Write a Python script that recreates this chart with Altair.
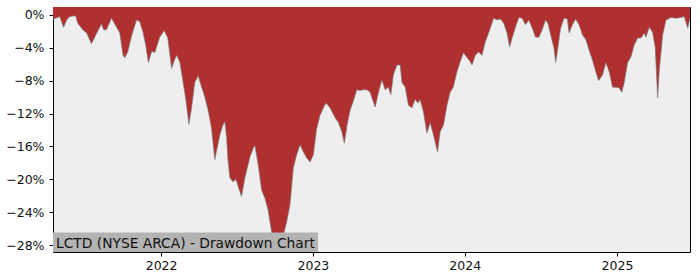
import math
import altair as alt
import pandas as pd

# Decimal-year positions and drawdown values (percent)
years = [
    2021.288, 2021.305, 2021.332, 2021.358, 2021.378, 2021.398, 2021.437, 2021.451, 2021.484, 2021.510,
    2021.541, 2021.563, 2021.576, 2021.607, 2021.622, 2021.640, 2021.673, 2021.701, 2021.728, 2021.749,
    2021.761, 2021.780, 2021.805, 2021.838, 2021.859, 2021.881, 2021.899, 2021.916, 2021.939, 2021.958,
    2021.991, 2022.021, 2022.044, 2022.069, 2022.084, 2022.102, 2022.123, 2022.145, 2022.163, 2022.183,
    2022.201, 2022.222, 2022.244, 2022.262, 2022.288, 2022.310, 2022.332, 2022.354, 2022.367, 2022.387,
    2022.407, 2022.420, 2022.431, 2022.440, 2022.453, 2022.473, 2022.493, 2022.508, 2022.530, 2022.552,
    2022.572, 2022.585, 2022.607, 2022.618, 2022.640, 2022.662, 2022.684, 2022.704, 2022.728, 2022.743,
    2022.763, 2022.783, 2022.805, 2022.827, 2022.849, 2022.871, 2022.893, 2022.915, 2022.935, 2022.959,
    2022.981, 2023.003, 2023.025, 2023.047, 2023.069, 2023.086, 2023.113, 2023.146, 2023.168, 2023.190,
    2023.207, 2023.225, 2023.245, 2023.266, 2023.289, 2023.311, 2023.330, 2023.355, 2023.377, 2023.398,
    2023.410, 2023.431, 2023.454, 2023.476, 2023.497, 2023.513, 2023.530, 2023.553, 2023.575, 2023.586,
    2023.608, 2023.629, 2023.652, 2023.673, 2023.693, 2023.706, 2023.728, 2023.751, 2023.772, 2023.794,
    2023.821, 2023.838, 2023.860, 2023.883, 2023.904, 2023.924, 2023.949, 2023.970, 2023.992, 2024.015,
    2024.030, 2024.048, 2024.069, 2024.091, 2024.113, 2024.135, 2024.157, 2024.179, 2024.190, 2024.212,
    2024.234, 2024.256, 2024.278, 2024.295, 2024.311, 2024.333, 2024.355, 2024.377, 2024.399, 2024.421,
    2024.443, 2024.465, 2024.487, 2024.509, 2024.531, 2024.546, 2024.564, 2024.586, 2024.597, 2024.608,
    2024.630, 2024.652, 2024.674, 2024.685, 2024.707, 2024.729, 2024.751, 2024.773, 2024.795, 2024.817,
    2024.839, 2024.861, 2024.879, 2024.905, 2024.927, 2024.949, 2024.971, 2024.993, 2025.015, 2025.032,
    2025.048, 2025.070, 2025.092, 2025.113, 2025.136, 2025.158, 2025.179, 2025.191, 2025.212, 2025.235,
    2025.252, 2025.268, 2025.278, 2025.301, 2025.323, 2025.356, 2025.389, 2025.421, 2025.443, 2025.466,
    2025.481,
]
drawdown = [
    -0.5, -0.4, -0.2, -1.5, -0.6, -0.2, -0.1, -1.0, -1.8, -2.2,
    -3.5, -2.7, -2.2, -1.1, -1.8, -1.8, -0.4, -1.3, -2.2, -4.9,
    -5.2, -4.5, -2.6, -0.6, -0.8, -2.1, -3.7, -5.8, -4.4, -4.6,
    -2.7, -1.9, -2.8, -6.5, -5.7, -4.9, -5.7, -8.2, -10.3, -13.3,
    -11.3, -8.2, -7.4, -8.5, -10.0, -11.6, -13.8, -17.6, -16.4, -14.6,
    -13.4, -13.0, -14.8, -17.6, -19.8, -20.3, -20.0, -20.9, -22.1, -19.8,
    -18.3, -17.3, -16.2, -15.9, -18.3, -21.3, -22.3, -23.7, -26.4, -28.6,
    -27.1, -28.5, -26.8, -25.2, -23.1, -18.6, -17.0, -15.8, -16.6, -17.4,
    -17.9, -17.0, -13.8, -12.2, -11.3, -10.7, -11.3, -12.5, -13.1, -14.2,
    -15.6, -13.4, -11.6, -10.5, -9.1, -9.2, -9.1, -9.1, -9.4, -10.6,
    -11.2, -9.5, -7.9, -9.1, -8.8, -9.7, -7.3, -6.1, -6.1, -8.2,
    -8.8, -11.0, -11.3, -10.3, -10.7, -10.3, -11.8, -14.4, -13.1, -14.6,
    -16.7, -14.2, -13.4, -11.0, -9.4, -8.8, -6.9, -5.7, -4.6, -5.2,
    -5.5, -6.1, -4.9, -4.5, -4.9, -3.3, -2.2, -1.0, -0.4, -0.6,
    -0.5, -1.0, -2.2, -3.9, -2.8, -1.5, -0.3, -0.4, -1.2, -0.6,
    -1.6, -2.7, -2.7, -1.8, -0.6, -1.0, -2.4, -4.0, -5.8, -4.5,
    -1.6, -0.4, -0.5, -2.2, -1.2, -0.5, -1.2, -2.4, -3.0, -4.3,
    -5.5, -6.9, -8.0, -7.3, -5.8, -6.9, -8.8, -8.8, -8.9, -9.4,
    -8.2, -5.8, -5.1, -3.7, -2.8, -2.8, -2.2, -2.7, -1.5, -2.1,
    -4.0, -10.1, -6.9, -2.4, -0.6, -0.3, -0.4, -0.3, -0.2, -1.6,
    -0.4,
]
y_ticks_pct = [0, -4, -8, -12, -16, -20, -24, -28]
x_tick_years = [2022, 2023, 2024, 2025]
y_domain_pct = [-28.85, 0.97]
title_text = "LCTD (NYSE ARCA) - Drawdown Chart"


def to_ts(d):
    y = int(math.floor(d))
    start = pd.Timestamp(year=y, month=1, day=1)
    end = pd.Timestamp(year=y + 1, month=1, day=1)
    return start + (end - start) * (d - y)


df = pd.DataFrame({
    "date": [to_ts(v).strftime("%Y-%m-%dT%H:%M:%S") for v in years],
    "dd": drawdown,
})
df["top"] = y_domain_pct[1]

W, H = 637, 245
FONT = "DejaVu Sans"

x_scale = alt.Scale(domain=[df["date"].iloc[0], df["date"].iloc[-1]], nice=False)
y_scale = alt.Scale(domain=y_domain_pct, nice=False, zero=False)

x_axis = alt.Axis(
    values=[alt.DateTime(year=yv, month=1, date=1) for yv in x_tick_years],
    format="%Y", title=None, grid=False, domain=False,
    tickColor="black", tickSize=4, tickWidth=1,
    labelFontSize=12.5, labelColor="#111", labelFont=FONT, labelPadding=3,
    labelOverlap=False, labelBound=False, labelFlush=False,
)
y_axis = alt.Axis(
    values=y_ticks_pct, title=None, grid=False, domain=False,
    labelExpr="replace(format(datum.value, 'd'), '-', '\u2212') + '%'",
    tickColor="black", tickSize=4, tickWidth=1,
    labelFontSize=12.5, labelColor="#111", labelFont=FONT, labelPadding=5,
    labelOverlap=False, labelBound=False, labelFlush=False,
)

base = alt.Chart(df)

area = base.mark_area(color="#b03030", opacity=1, interpolate="linear").encode(
    x=alt.X("date:T", scale=x_scale, axis=x_axis),
    y=alt.Y("dd:Q", scale=y_scale, axis=y_axis),
    y2="top:Q",
)
edge = base.mark_line(color="#7a7a7a", strokeWidth=0.8, opacity=0.8).encode(
    x=alt.X("date:T", scale=x_scale, axis=x_axis),
    y=alt.Y("dd:Q", scale=y_scale, axis=y_axis),
)

label_box = alt.Chart(pd.DataFrame({"t": [title_text]})).mark_rect(
    color="#b3b3b3", opacity=1
).encode(
    x=alt.value(0), x2=alt.value(265), y=alt.value(225.5), y2=alt.value(245),
)
label_text = alt.Chart(pd.DataFrame({"t": [title_text]})).mark_text(
    align="left", baseline="alphabetic", font=FONT, fontSize=13.8, color="#111"
).encode(
    x=alt.value(3), y=alt.value(240.5), text="t:N",
)

chart = alt.layer(area, edge, label_box, label_text).properties(
    width=W, height=H,
    autosize=alt.AutoSizeParams(type="none"),
    padding={"left": 53, "top": 7, "right": 10, "bottom": 28},
    background="white",
).configure_view(
    fill="#eeeeee", stroke="black", strokeWidth=1,
).configure_axis(
    labelOverlap=False,
)

chart.save("out.html", embed_options={"renderer": "svg", "actions": False})
